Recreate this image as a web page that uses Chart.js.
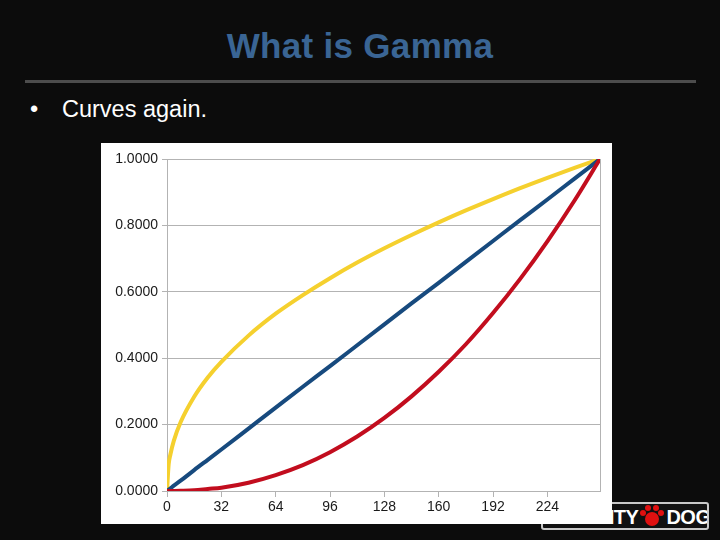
<!DOCTYPE html>
<html>
<head>
<meta charset="utf-8">
<script src="https://cdn.jsdelivr.net/npm/chart.js@4.4.1/dist/chart.umd.min.js"></script>
<style>
  body { margin: 0; background: #0c0c0c; width: 720px; height: 540px; overflow: hidden; position: relative; font-family: "Liberation Sans", Arial, sans-serif; }
  #title { position: absolute; left: 0; width: 720px; top: 26px; text-align: center; color: #3a6594; font-weight: bold; font-size: 35px; letter-spacing: 0.3px; }
  #rule { position: absolute; left: 25px; width: 671px; top: 80px; height: 3px; background: #4d4d4d; }
  #bullet { position: absolute; left: 30px; top: 96px; color: #ffffff; font-size: 23.5px; }
  #bullet span { display: inline-block; width: 32px; }
  #logo { position: absolute; left: 541px; top: 502px; width: 164px; height: 24px; border: 2px solid #c8c8c8; border-radius: 3px; background: #111; color: #fff; font-weight: bold; font-size: 20px; letter-spacing: -0.5px; line-height: 24px; text-align: right; white-space: nowrap; overflow: hidden; }
  #logo svg { vertical-align: -4px; }
  #box { position: absolute; left: 101px; top: 143px; width: 511px; height: 381px; background: #ffffff; }
</style>
</head>
<body>
<div id="title">What is Gamma</div>
<div id="rule"></div>
<div id="bullet"><span>•</span>Curves again.</div>
<div id="logo">NAUGHTY<svg width="28" height="24" viewBox="0 0 28 24"><circle cx="14" cy="15" r="7" fill="#e01010"/><circle cx="5" cy="9" r="3" fill="#e01010"/><circle cx="10" cy="4" r="3" fill="#e01010"/><circle cx="18" cy="4" r="3" fill="#e01010"/><circle cx="23" cy="9" r="3" fill="#e01010"/></svg>DOG&nbsp;</div>
<div id="box"><canvas id="gammaChart" width="511" height="381"></canvas></div>
<script>
const inputs = [0, 1, 2, 4, 8, 16, 24, 32, 48, 64, 80, 96, 112, 128, 144, 160, 176, 192, 208, 224, 240, 255];
const encoded = [0, 0.081, 0.110, 0.151, 0.207, 0.284, 0.342, 0.389, 0.468, 0.534, 0.590, 0.641, 0.688, 0.731, 0.771, 0.809, 0.845, 0.879, 0.912, 0.943, 0.973, 1];
const linear = [0, 0.004, 0.008, 0.016, 0.031, 0.063, 0.094, 0.125, 0.188, 0.251, 0.314, 0.376, 0.439, 0.502, 0.565, 0.627, 0.690, 0.753, 0.816, 0.878, 0.941, 1];
const decoded = [0, 0, 0, 0.0001, 0.0005, 0.002, 0.006, 0.010, 0.025, 0.048, 0.078, 0.117, 0.164, 0.220, 0.285, 0.359, 0.442, 0.536, 0.639, 0.752, 0.875, 1];
const xTicks = [0, 32, 64, 96, 128, 160, 192, 224];
const yTicks = [0, 0.2, 0.4, 0.6, 0.8, 1];

function pts(values) {
    return inputs.map((x, i) => ({ x: x, y: values[i] }));
}

function line(values, color) {
    return { data: pts(values), borderColor: color, borderWidth: 4, pointRadius: 0, cubicInterpolationMode: 'monotone', fill: false };
}

const ctx = document.getElementById("gammaChart").getContext("2d");
const chart = new Chart(ctx, {
    type: 'line',
    data: {
        datasets: [
            line(decoded, '#c20d1e'),
            line(linear, '#174a7e'),
            line(encoded, '#f5d02e')
        ]
    },
    options: {
        responsive: false,
        animation: false,
        layout: { padding: { top: 16, right: 12, left: 0, bottom: 0 } },
        plugins: { legend: { display: false }, tooltip: { enabled: false } },
        scales: {
            x: {
                type: 'linear',
                min: 0,
                max: 255,
                afterBuildTicks: s => { s.ticks = xTicks.concat([255]).map(v => ({ value: v })); },
                afterFit: s => { s.height = 33; },
                ticks: {
                    autoSkip: false,
                    maxRotation: 0,
                    color: '#1a1a1a',
                    font: { family: 'Liberation Sans', size: 14 },
                    padding: 2,
                    callback: v => (v === 255 ? '' : v)
                },
                grid: {
                    color: c => (c.tick && c.tick.value === 255 ? '#b3b3b3' : 'rgba(0,0,0,0)'),
                    tickColor: c => (c.tick && c.tick.value === 255 ? 'rgba(0,0,0,0)' : '#b3b3b3'),
                    tickLength: 6
                },
                border: { color: '#b3b3b3' }
            },
            y: {
                min: 0,
                max: 1,
                afterBuildTicks: s => { s.ticks = yTicks.map(v => ({ value: v })); },
                afterFit: s => { s.width = 66; },
                ticks: {
                    color: '#1a1a1a',
                    font: { family: 'Liberation Sans', size: 14 },
                    padding: 4,
                    callback: v => v.toFixed(4)
                },
                grid: { color: '#b3b3b3', tickLength: 5 },
                border: { color: '#b3b3b3' }
            }
        }
    }
});
</script>
</body>
</html>
